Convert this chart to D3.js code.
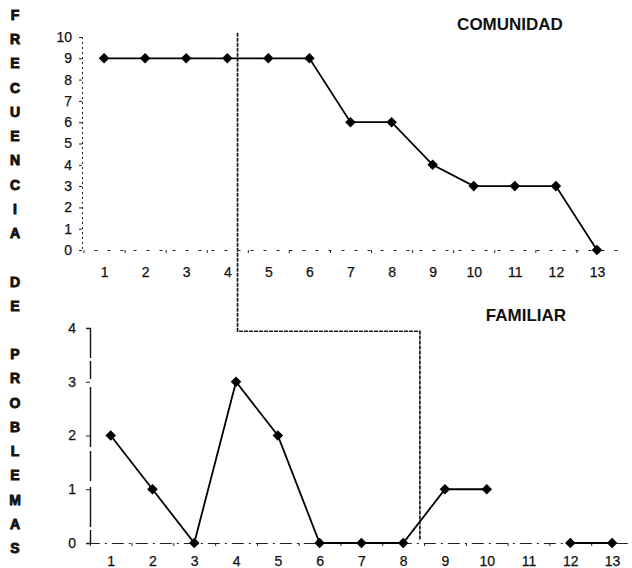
<!DOCTYPE html>
<html>
<head>
<meta charset="utf-8">
<script src="https://cdn.jsdelivr.net/npm/d3@7"></script>
<style>
  html, body { margin: 0; padding: 0; background: #fff; }
  svg { display: block; }
  text { font-family: "Liberation Sans", Arial, sans-serif; fill: #111; }
</style>
</head>
<body>
<svg id="chart" width="632" height="568"></svg>
<script>
// Problem counts per case, community and family
const categories = ["1","2","3","4","5","6","7","8","9","10","11","12","13"];
const comunidad = [9, 9, 9, 9, 9, 9, 6, 6, 4, 3, 3, 3, 0];
const familiar  = [2, 1, 0, 3, 2, 0, 0, 0, 1, 1, null, 0, 0];
const topTicks = [0, 1, 2, 3, 4, 5, 6, 7, 8, 9, 10];
const bottomTicks = [0, 1, 2, 3, 4];
const titles = ["COMUNIDAD", "FAMILIAR"];
const sideWords = ["FRECUENCIA", "DE", "PROBLEMAS"];
// Category positions where the split line between the panels runs
const splitAt = [4.25, 8.4];

const svg = d3.select("#chart");

// Scales: each category sits in the middle of its slot
const xTop = d3.scaleLinear().domain([0.5, 13.5]).range([83.5, 617.5]);
const yTop = d3.scaleLinear().domain([0, 10]).range([250, 37]);
const xBot = d3.scaleLinear().domain([0.5, 13.5]).range([89.8, 633]);
const yBot = d3.scaleLinear().domain([0, 4]).range([543, 328]);

const boundaries = d3.range(1.5, 13.5, 1);
const fmt = d3.format("d");

function styleLabels(sel) {
  sel.selectAll("text")
    .attr("font-size", 14)
    .attr("font-family", null)
    .style("fill", "#111")
    .style("stroke", "#111")
    .style("stroke-width", 0.25);
}

// ---------- vertical side label ----------
const side = svg.append("g");
let step = 0, letters = [];
sideWords.forEach((w, wi) => {
  if (wi > 0) step += 2;
  w.split("").forEach((ch, ci) => {
    if (ci > 0) step += 1;
    letters.push({ch, step});
  });
});
const lastStep = letters[letters.length - 1].step;
const yLetter = d3.scaleLinear().domain([0, lastStep]).range([15, 548]);
side.selectAll("text").data(letters).join("text")
  .attr("x", 15)
  .attr("y", d => yLetter(d.step) + 5)
  .attr("text-anchor", "middle")
  .attr("font-size", 14)
  .attr("font-weight", "bold")
  .style("stroke", "#111")
  .style("stroke-width", 0.9)
  .text(d => d.ch);

// ---------- split line between panels ----------
const split = d3.path();
split.moveTo(xTop(splitAt[0]), yTop(10.2));
split.lineTo(xTop(splitAt[0]), yBot(3.94));
split.lineTo(xBot(splitAt[1]), yBot(3.94));
split.lineTo(xBot(splitAt[1]), yBot(0.05));
svg.append("path")
  .attr("d", split.toString())
  .attr("fill", "none")
  .attr("stroke", "#1a1a1a")
  .attr("stroke-width", 1.7)
  .attr("stroke-dasharray", "4,1");

// ---------- top panel: COMUNIDAD ----------
const gTop = svg.append("g");

const yAxisTop = gTop.append("g")
  .attr("transform", `translate(82,0)`)
  .call(d3.axisLeft(yTop).tickValues(topTicks).tickSize(3).tickPadding(7).tickFormat(fmt));
yAxisTop.select(".domain").attr("stroke", "#222").attr("stroke-dasharray", "2,3");
yAxisTop.selectAll(".tick line").attr("stroke", "#222");
styleLabels(yAxisTop);

const xLineTop = gTop.append("g")
  .attr("transform", `translate(0,${yTop(0)})`)
  .call(d3.axisBottom(xTop).tickValues(boundaries).tickSize(3).tickFormat(""));
xLineTop.select(".domain").attr("stroke", "#222").attr("stroke-dasharray", "3,10");
xLineTop.selectAll(".tick line").attr("stroke", "#222");

const xLabTop = gTop.append("g")
  .attr("transform", `translate(0,${yTop(0)})`)
  .call(d3.axisBottom(xTop).tickValues(d3.range(1, 14)).tickSize(0).tickPadding(17)
    .tickFormat((d, i) => categories[i]));
xLabTop.select(".domain").remove();
styleLabels(xLabTop);

const topData = comunidad.map((v, i) => ({x: i + 1, v}));
const lineTop = d3.line().x(d => xTop(d.x)).y(d => yTop(d.v));
gTop.append("path")
  .datum(topData)
  .attr("d", lineTop)
  .attr("fill", "none")
  .attr("stroke", "#000")
  .attr("stroke-width", 1.8);
const diamond = d3.symbol().type(d3.symbolSquare).size(56)();
gTop.selectAll("path.pt").data(topData).join("path")
  .attr("class", "pt")
  .attr("d", diamond)
  .attr("transform", d => `translate(${xTop(d.x)},${yTop(d.v)}) rotate(45)`)
  .attr("fill", "#000");

gTop.append("text")
  .attr("x", 510).attr("y", 30)
  .attr("text-anchor", "middle")
  .attr("font-size", 17)
  .attr("font-weight", "bold")
  .text(titles[0]);

// ---------- bottom panel: FAMILIAR ----------
const gBot = svg.append("g");

const yAxisBot = gBot.append("g")
  .attr("transform", `translate(90,0)`)
  .call(d3.axisLeft(yBot).tickValues(bottomTicks).tickSize(4).tickPadding(10).tickFormat(fmt));
yAxisBot.select(".domain").attr("stroke", "#111").attr("stroke-width", 1.4)
  .attr("stroke-dasharray", "18,3,40,6,30,4,60,8");
yAxisBot.selectAll(".tick line").attr("stroke", "#222");
styleLabels(yAxisBot);

const xLineBot = gBot.append("g")
  .attr("transform", `translate(0,${yBot(0)})`)
  .call(d3.axisBottom(xBot).tickValues(boundaries).tickSize(3).tickFormat(""));
xLineBot.select(".domain").attr("stroke", "#222").attr("stroke-dasharray", "12,5,2,5");
xLineBot.selectAll(".tick line").attr("stroke", "#222");

const xLabBot = gBot.append("g")
  .attr("transform", `translate(0,${yBot(0)})`)
  .call(d3.axisBottom(xBot).tickValues(d3.range(1, 14)).tickSize(0).tickPadding(13)
    .tickFormat((d, i) => categories[i]));
xLabBot.select(".domain").remove();
styleLabels(xLabBot);

const botData = familiar.map((v, i) => ({x: i + 1, v}));
const lineBot = d3.line().defined(d => d.v !== null).x(d => xBot(d.x)).y(d => yBot(d.v));
gBot.append("path")
  .datum(botData)
  .attr("d", lineBot)
  .attr("fill", "none")
  .attr("stroke", "#000")
  .attr("stroke-width", 1.8);
gBot.selectAll("path.pt").data(botData.filter(d => d.v !== null)).join("path")
  .attr("class", "pt")
  .attr("d", diamond)
  .attr("transform", d => `translate(${xBot(d.x)},${yBot(d.v)}) rotate(45)`)
  .attr("fill", "#000");

gBot.append("text")
  .attr("x", 526).attr("y", 321)
  .attr("text-anchor", "middle")
  .attr("font-size", 17)
  .attr("font-weight", "bold")
  .text(titles[1]);
</script>
</body>
</html>
